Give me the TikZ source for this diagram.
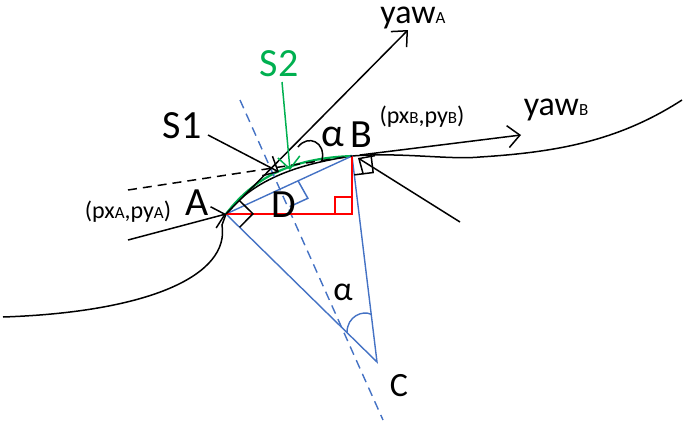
\documentclass[tikz,border=0pt]{standalone}
\usepackage{fontspec}
\setmainfont{Carlito}
\usetikzlibrary{calc,arrows.meta}
\definecolor{bl}{RGB}{68,114,196}
\definecolor{gr}{RGB}{0,176,80}
\tikzset{ln/.style={black,line width=1.5pt},
 arr/.style={ln,-{Straight Barb[length=12pt,width=22pt,line width=1.5pt]}},
 blu/.style={bl,line width=1.4pt},
 big/.style={font=\fontsize{40}{40}\selectfont,inner sep=0pt},
 mid/.style={font=\fontsize{34}{34}\selectfont,inner sep=0pt},
 sml/.style={font=\fontsize{24}{24}\selectfont,inner sep=0pt}}
\newcommand{\sub}[1]{{\fontsize{17}{17}\selectfont #1}}
\begin{document}
\begin{tikzpicture}[x=1pt,y=-1pt]
\useasboundingbox (0,0) rectangle (685,426);
\coordinate (A) at (226,214);
\coordinate (B) at (352,156);
\coordinate (C) at (377,362);
\coordinate (P1) at (240,100);
\coordinate (P2) at (383,420);
\coordinate (D) at (intersection of A--B and P1--P2);
% curve
\draw[ln] (3,317) .. controls (150,312) and (230,275) .. (222,225) -- (A);
\draw[ln] (A) .. controls (255,178) and (300,164) .. (B) .. controls (400,152) and (450,160) .. (480,157) .. controls (560,152) and (620,140) .. (682,100);
% green arc
\draw[gr,line width=2.2pt] (A) .. controls (258,172) and (300,158) .. (B);
% blue
\draw[blu,dash pattern=on 9pt off 6pt] (P1) -- (P2);
\draw[blu] (A) -- (B) -- (C) -- (A);
% red
\coordinate (R) at (352,214);
\draw[red,line width=1.8pt] (A) -- (R) -- (B);
\draw[red,line width=1.8pt] (335,214) -- (335,197) -- (352,197);
% dashed black
\draw[ln,dash pattern=on 9pt off 6pt] (128,190) -- (B);
% arrows
\coordinate (YA) at (408,30);
\coordinate (YB) at (521,135);
\draw[arr] (A) -- (YA);
\draw[arr] (B) ++(8,-1) -- (YB);
\draw[arr] (128,240) -- (A);
\draw[arr] (460,222) -- ($(B)+(6,2)$);
\draw[arr] (208,135) -- (279,172);
\draw[gr,line width=1.5pt,-{Straight Barb[length=12pt,width=22pt,line width=1.5pt]}] (282,82) -- (290,170);
% alpha arc at B
\draw[ln] (298,147) .. controls (308,134) and (326,142) .. (322,160);
% alpha arc at C
\draw[blu] ($(C)!42pt!(A)$) .. controls ($(C)+(-30,-46)$) and ($(C)+(-14,-52)$) .. ($(C)!48pt!(B)$);
% right-angle marks
\foreach \X/\U/\V in {A/C/YA, B/C/YB}{
  \draw[ln] ($(\X)!19pt!(\U)$) -- ($($(\X)!19pt!(\U)$)+($(\X)!19pt!(\V)$)-(\X)$) -- ($(\X)!19pt!(\V)$);
}
\draw[bl,line width=1.5pt] ($(D)!20pt!(C)$) -- ($($(D)!20pt!(C)$)+($(D)!20pt!(B)$)-(D)$) -- ($(D)!20pt!(B)$);
% labels
\node[big] (lA) at (197,203) {A};
\node[big] (lB) at (361,135) {B};
\node[big] (la) at (333,137) {α};
\node[big] (lD) at (284,205) {D};
\node[mid] (lC) at (399,386) {C};
\node[mid] (lal) at (343,292) {α};
\node[big] (lS1) at (182,126) {S1};
\node[big,gr] (lS2) at (279,64) {S2};
\node[sml] (pA) at (128,212) {(px\sub{A},py\sub{A})};
\node[sml] (pB) at (422,117) {(px\sub{B},py\sub{B})};
\node[mid] (yA) at (413,18) {yaw\sub{A}};
\node[mid] (yB) at (556,110) {yaw\sub{B}};
\end{tikzpicture}
\end{document}
